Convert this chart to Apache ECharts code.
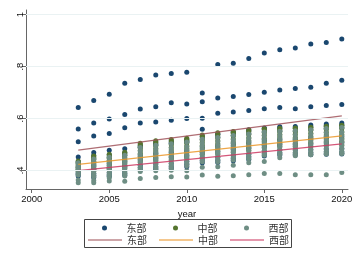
<!DOCTYPE html>
<html>
<head>
<meta charset="utf-8">
<script src="https://cdn.jsdelivr.net/npm/echarts@6/dist/echarts.min.js"></script>
<style>
  html, body { margin: 0; padding: 0; background: #fff; }
  #chart { width: 357px; height: 260px; }
</style>
</head>
<body>
<div id="chart"></div>
<script>
var years = [2003,2004,2005,2006,2007,2008,2009,2010,2011,2012,2013,2014,2015,2016,2017,2018,2019,2020]
var xTicks = [2000, 2005, 2010, 2015, 2020]
var yTicks = [0.4, 0.6, 0.8, 1]

// 东部 provinces, one row per province
var eastData = [
  [0.642,0.669,0.693,0.736,0.750,0.767,0.773,0.778,0.698,0.808,0.813,0.831,0.852,0.865,0.872,0.887,0.893,0.906],
  [0.559,0.582,0.598,0.615,0.636,0.645,0.660,0.656,0.664,0.679,0.685,0.692,0.701,0.710,0.715,0.720,0.736,0.747],
  [0.510,0.532,0.542,0.564,0.582,0.586,0.593,0.600,0.601,0.620,0.625,0.631,0.637,0.642,0.637,0.645,0.650,0.654],
  [0.451,0.469,0.477,0.483,0.492,0.501,0.506,0.512,0.558,0.540,0.548,0.556,0.563,0.568,0.569,0.575,0.579,0.582],
  [0.433,0.457,0.460,0.468,0.499,0.509,0.514,0.519,0.531,0.539,0.546,0.552,0.560,0.563,0.563,0.568,0.573,0.576],
  [0.428,0.445,0.449,0.459,0.489,0.498,0.503,0.508,0.521,0.528,0.535,0.541,0.549,0.552,0.552,0.557,0.562,0.564],
  [0.412,0.420,0.424,0.433,0.459,0.466,0.470,0.476,0.490,0.495,0.502,0.507,0.517,0.520,0.520,0.524,0.528,0.529],
  [0.401,0.404,0.407,0.415,0.440,0.445,0.448,0.455,0.469,0.472,0.479,0.485,0.495,0.499,0.499,0.501,0.505,0.506],
  [0.390,0.387,0.391,0.398,0.420,0.424,0.426,0.434,0.448,0.450,0.457,0.462,0.474,0.478,0.478,0.479,0.482,0.483],
  [0.385,0.379,0.382,0.389,0.410,0.413,0.415,0.423,0.438,0.439,0.446,0.451,0.463,0.467,0.467,0.468,0.471,0.471],
  [0.378,0.372,0.376,0.381,0.401,0.404,0.407,0.414,0.429,0.430,0.437,0.442,0.455,0.459,0.459,0.460,0.462,0.463]
]
// 中部
var centralData = [
  [0.436,0.455,0.462,0.470,0.504,0.514,0.519,0.524,0.536,0.545,0.550,0.555,0.560,0.562,0.563,0.566,0.570,0.574],
  [0.432,0.450,0.455,0.465,0.496,0.506,0.510,0.516,0.528,0.536,0.543,0.549,0.556,0.557,0.561,0.563,0.568,0.571],
  [0.426,0.442,0.447,0.456,0.486,0.495,0.499,0.505,0.517,0.525,0.532,0.538,0.546,0.549,0.550,0.554,0.558,0.561],
  [0.421,0.434,0.438,0.448,0.476,0.484,0.488,0.494,0.507,0.514,0.521,0.526,0.535,0.538,0.539,0.543,0.547,0.549],
  [0.415,0.426,0.430,0.439,0.466,0.474,0.478,0.484,0.497,0.502,0.509,0.515,0.524,0.528,0.527,0.531,0.536,0.538],
  [0.409,0.416,0.420,0.428,0.454,0.461,0.464,0.471,0.484,0.489,0.496,0.501,0.511,0.515,0.515,0.518,0.522,0.523],
  [0.404,0.408,0.412,0.420,0.445,0.450,0.454,0.460,0.474,0.478,0.485,0.490,0.501,0.504,0.504,0.507,0.511,0.512],
  [0.397,0.398,0.402,0.409,0.433,0.438,0.441,0.448,0.462,0.464,0.471,0.477,0.488,0.492,0.492,0.493,0.497,0.498]
]
// 西部
var westData = [
  [0.429,0.444,0.450,0.458,0.488,0.497,0.502,0.509,0.520,0.527,0.534,0.540,0.548,0.551,0.553,0.556,0.561,0.565],
  [0.420,0.432,0.437,0.446,0.474,0.482,0.486,0.492,0.505,0.511,0.518,0.524,0.533,0.536,0.536,0.540,0.545,0.547],
  [0.413,0.423,0.427,0.435,0.462,0.469,0.473,0.479,0.493,0.498,0.505,0.511,0.520,0.523,0.523,0.527,0.531,0.533],
  [0.407,0.413,0.417,0.425,0.451,0.457,0.460,0.467,0.480,0.485,0.492,0.497,0.507,0.511,0.511,0.514,0.517,0.519],
  [0.401,0.405,0.408,0.416,0.441,0.446,0.449,0.456,0.470,0.473,0.480,0.486,0.497,0.500,0.500,0.502,0.506,0.507],
  [0.396,0.396,0.400,0.408,0.431,0.436,0.438,0.446,0.460,0.462,0.469,0.474,0.486,0.490,0.490,0.491,0.495,0.495],
  [0.391,0.388,0.391,0.399,0.421,0.425,0.427,0.435,0.449,0.451,0.458,0.463,0.475,0.479,0.479,0.480,0.483,0.484],
  [0.386,0.381,0.384,0.391,0.412,0.415,0.418,0.425,0.440,0.441,0.448,0.453,0.465,0.469,0.469,0.470,0.473,0.473],
  [0.382,0.375,0.378,0.385,0.405,0.408,0.410,0.418,0.433,0.433,0.440,0.445,0.458,0.462,0.462,0.462,0.465,0.465],
  [0.363,0.361,0.370,0.378,0.395,0.398,0.400,0.398,0.412,0.414,0.420,0.429,0.434,0.448,0.456,0.460,0.463,0.466],
  [0.352,0.352,0.359,0.358,0.368,0.372,0.375,0.374,0.382,0.377,0.379,0.383,0.388,0.388,0.383,0.383,0.383,0.392]
]

// linear fit lines, read at both ends
var fitYears = [2003, 2020]
var eastFit = [0.478, 0.610]
var centralFit = [0.423, 0.533]
var westFit = [0.399, 0.502]

var regions = ['东部', '中部', '西部']
var dotColors = ['#1a476f', '#55752f', '#6e8e84']
var fitColors = ['#a0545a', '#eb9628', '#cc3a62']

function toPoints(rows) {
  var pts = []
  rows.forEach(function (row) {
    row.forEach(function (v, i) { pts.push([years[i], v]) })
  })
  return pts
}
function fitPoints(fit) {
  return fitYears.map(function (y, i) { return [y, fit[i]] })
}

var labelFont = { fontFamily: 'Liberation Sans, Arial, sans-serif', fontSize: 9.5, color: '#111' }
var legendText = { fontFamily: 'Noto Sans CJK SC', fontSize: 10, color: '#333' }

var chart = echarts.init(document.getElementById('chart'), null, { renderer: 'canvas' })

var series = [{
  // grid lines
  type: 'line', name: 'grid', data: [], z: 1, silent: true,
  markLine: {
    silent: true, symbol: 'none', label: { show: false },
    lineStyle: { color: '#eaf2f3', width: 1, type: 'solid' },
    data: yTicks.map(function (t) { return { yAxis: t } })
  }
}]
var allRows = [eastData, centralData, westData]
var allFits = [eastFit, centralFit, westFit]
for (var k = 0; k < 3; k++) {
  series.push({
    type: 'scatter', name: regions[k], data: toPoints(allRows[k]),
    symbolSize: 5, itemStyle: { color: dotColors[k], opacity: 1 }, z: 2
  })
}
for (var k = 0; k < 3; k++) {
  series.push({
    type: 'line', name: 'fit' + regions[k], data: fitPoints(allFits[k]),
    symbol: 'none', lineStyle: { color: fitColors[k], width: 1.2, opacity: 0.85 },
    itemStyle: { color: fitColors[k], opacity: 0.7 }, z: 3
  })
}

// marker row: one legend per column so each dot sits centred over its line key
var markerLeft = [102, 173, 244]
var legends = regions.map(function (r, i) {
  return {
    data: [r], left: markerLeft[i], top: 223, padding: 0, icon: 'circle',
    itemWidth: 34, itemHeight: 5, selectedMode: false, textStyle: legendText
  }
})
legends.push({
  data: regions.map(function (r) { return 'fit' + r }),
  formatter: function (n) { return n.replace('fit', '') },
  left: 88, top: 235, padding: 0, icon: 'rect',
  itemWidth: 34, itemHeight: 1.5, itemGap: 12, selectedMode: false,
  textStyle: legendText
})

chart.setOption({
  animation: false,
  backgroundColor: '#fff',
  grid: { left: 26, right: 9, top: 10, bottom: 71, containLabel: false, outerBoundsMode: 'none' },
  xAxis: {
    type: 'value', min: 1999.63, max: 2020.4,
    name: 'year', nameLocation: 'middle', nameGap: 12,
    nameTextStyle: labelFont,
    axisLine: { lineStyle: { color: '#666', width: 1 } },
    axisTick: { customValues: xTicks, length: 4, lineStyle: { color: '#666' } },
    axisLabel: Object.assign({
      customValues: xTicks, margin: 5,
      formatter: function (v) { return String(v) }
    }, labelFont),
    splitLine: { show: false }
  },
  yAxis: {
    type: 'value', min: 0.328, max: 1.018,
    axisLine: { show: true, lineStyle: { color: '#666', width: 1 } },
    axisTick: { show: true, customValues: yTicks, length: 4, lineStyle: { color: '#666' } },
    axisLabel: Object.assign({
      customValues: yTicks, rotate: 90, margin: 1,
      formatter: function (v) { return v === 1 ? '1' : '.' + Math.round(v * 10) }
    }, labelFont),
    splitLine: { show: false }
  },
  legend: legends,
  graphic: [{
    type: 'rect', silent: true,
    shape: { x: 84.5, y: 219.5, width: 207, height: 28 },
    style: { fill: 'none', stroke: '#444', lineWidth: 1 }
  }],
  series: series
})
</script>
</body>
</html>
